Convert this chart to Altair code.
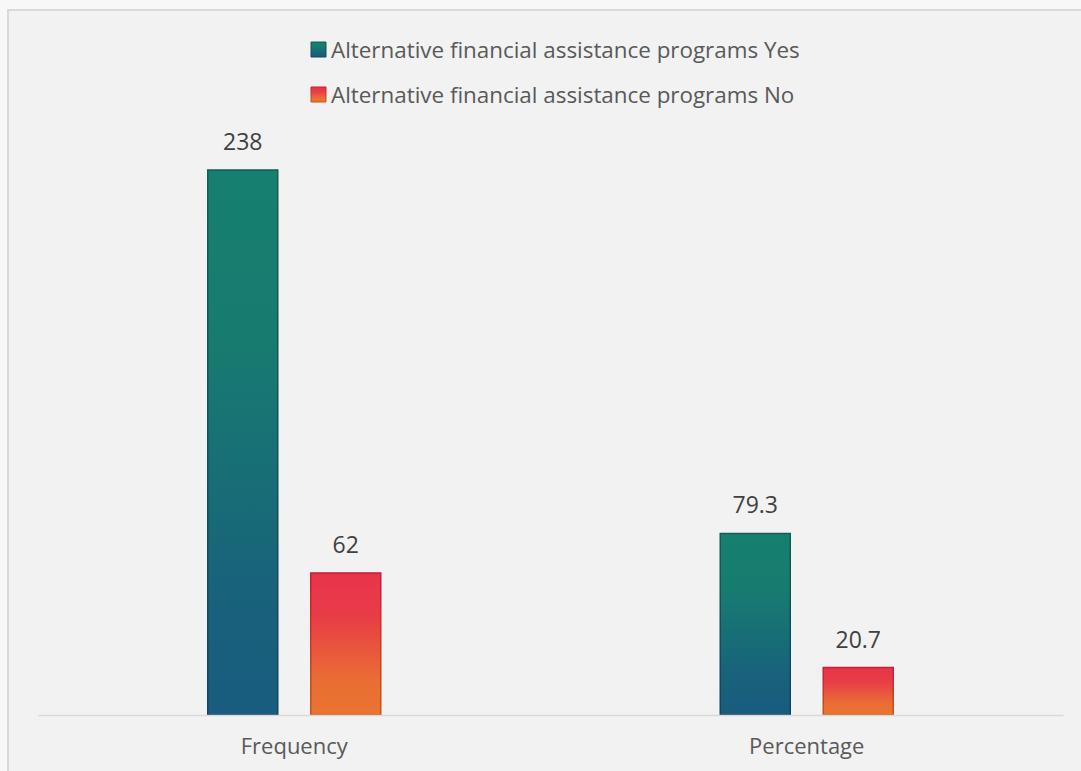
import altair as alt
import pandas as pd

categories = ["Frequency", "Percentage"]
series_keys = ["Yes", "No"]
legend_labels = [
    "Alternative financial assistance programs Yes",
    "Alternative financial assistance programs No",
]
yes_values = [238, 79.3]
no_values = [62, 20.7]
yes_text = ["238", "79.3"]
no_text = ["62", "20.7"]

rows = []
for i, c in enumerate(categories):
    rows.append({"category": c, "series": "Yes", "value": yes_values[i], "label": yes_text[i]})
    rows.append({"category": c, "series": "No", "value": no_values[i], "label": no_text[i]})
df = pd.DataFrame(rows)

FONT = "Open Sans"

yes_fill = alt.Gradient(
    gradient="linear", x1=0, x2=0, y1=0, y2=1,
    stops=[
        alt.GradientStop(color="#167f6f", offset=0),
        alt.GradientStop(color="#177c70", offset=0.3),
        alt.GradientStop(color="#18627b", offset=0.78),
        alt.GradientStop(color="#195c7f", offset=1),
    ],
)
yes_stroke = alt.Gradient(
    gradient="linear", x1=0, x2=0, y1=0, y2=1,
    stops=[
        alt.GradientStop(color="#0f5e52", offset=0),
        alt.GradientStop(color="#12445e", offset=1),
    ],
)
no_fill = alt.Gradient(
    gradient="linear", x1=0, x2=0, y1=0, y2=1,
    stops=[
        alt.GradientStop(color="#e8344a", offset=0),
        alt.GradientStop(color="#e83c47", offset=0.3),
        alt.GradientStop(color="#ea6d34", offset=0.75),
        alt.GradientStop(color="#ea7530", offset=1),
    ],
)
no_stroke = alt.Gradient(
    gradient="linear", x1=0, x2=0, y1=0, y2=1,
    stops=[
        alt.GradientStop(color="#c21f33", offset=0),
        alt.GradientStop(color="#c4561c", offset=1),
    ],
)

x_enc = alt.X(
    "category:N",
    sort=categories,
    scale=alt.Scale(paddingInner=0.2605, paddingOuter=0.13025),
    axis=alt.Axis(
        title=None, labelAngle=0, ticks=False, grid=False,
        domainColor="#d9d9d9", domainWidth=1.5,
        labelColor="#595959", labelFont=FONT, labelFontSize=22,
        labelPadding=21, zindex=1,
    ),
)
xoff_enc = alt.XOffset(
    "series:N",
    scale=alt.Scale(domain=series_keys, paddingInner=0.3204, paddingOuter=1),
)
y_enc = alt.Y(
    "value:Q",
    scale=alt.Scale(domain=[0, 299.1], nice=False, zero=True),
    axis=None,
)

base = alt.Chart(df)

frame = alt.Chart(alt.Data(values=[{"k": 1}])).mark_rect(
    fill="#f2f2f2", stroke="#d9d9d9", strokeWidth=2
).encode(
    x=alt.value(-30), x2=alt.value(1200), y=alt.value(-20), y2=alt.value(900)
)

bars_yes = base.transform_filter(alt.datum.series == "Yes").mark_bar(
    fill=yes_fill, stroke=yes_stroke, strokeWidth=1.5
).encode(x=x_enc, xOffset=xoff_enc, y=y_enc)

bars_no = base.transform_filter(alt.datum.series == "No").mark_bar(
    fill=no_fill, stroke=no_stroke, strokeWidth=1.5
).encode(x=x_enc, xOffset=xoff_enc, y=y_enc)

texts = base.mark_text(
    dy=-20, baseline="alphabetic", font=FONT, fontSize=23, color="#404040"
).encode(x=x_enc, xOffset=xoff_enc, y=y_enc, text="label:N")

legend_layers = []
fills = [yes_fill, no_fill]
strokes = [yes_stroke, no_stroke]
for i, lab in enumerate(legend_labels):
    y0 = 12 + 45 * i
    sw = alt.Chart(alt.Data(values=[{"label": lab}])).mark_rect(
        fill=fills[i], stroke=strokes[i], strokeWidth=1
    ).encode(
        x=alt.value(273), x2=alt.value(288), y=alt.value(y0), y2=alt.value(y0 + 15)
    )
    tx = alt.Chart(alt.Data(values=[{"label": lab}])).mark_text(
        align="left", baseline="middle", font=FONT, fontSize=22.4, color="#595959"
    ).encode(
        x=alt.value(293), y=alt.value(y0 + 8.5), text="label:N"
    )
    legend_layers += [sw, tx]

chart = alt.layer(frame, bars_yes, bars_no, texts, *legend_layers).properties(
    width=1025,
    height=685,
    autosize=alt.AutoSizeParams(type="none"),
    padding={"left": 38, "top": 30, "right": 18, "bottom": 56},
    background="#f8f8f8",
).configure_view(stroke=None)

chart.save("out.html", embed_options={"renderer": "svg", "actions": False})
